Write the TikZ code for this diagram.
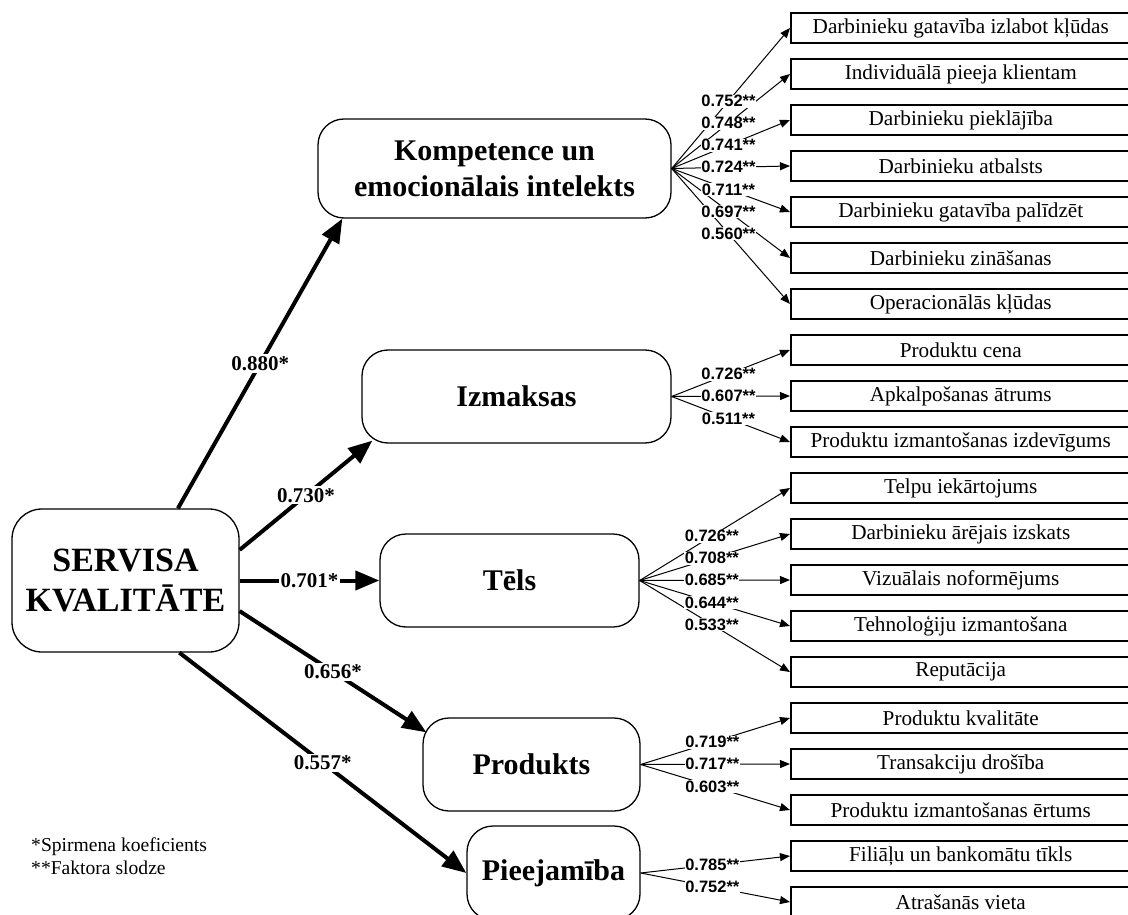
\documentclass[tikz,border=0pt]{standalone}
\usepackage{fontspec}
\setmainfont{Liberation Serif}
\newfontfamily\lblfont{Liberation Sans}
\usetikzlibrary{arrows.meta,calc}
\begin{document}
\begin{tikzpicture}[x=1pt,y=-1pt,
  factor/.style={draw, line width=1.3pt, rounded corners=26pt, align=center, inner sep=0pt, font=\bfseries\fontsize{30}{36}\selectfont},
  item/.style={draw, line width=1.5pt, minimum width=340pt, minimum height=30pt, anchor=west, inner sep=0pt, font=\fontsize{21.2}{24}\selectfont},
  mainarrow/.style={line width=4pt, -{Triangle[length=24pt,width=19pt]}},
  thinarrow/.style={line width=1pt, -{Triangle[length=10pt,width=8pt]}},
  mainlbl/.style={fill=white, inner sep=2pt, font=\bfseries\fontsize{21}{23}\selectfont},
  lbl/.style={fill=white, inner sep=0.6pt, pos=0.48, font=\lblfont\bfseries\fontsize{16.5}{17}\selectfont}
]
\useasboundingbox (0,0) rectangle (1128,915);

% factor nodes
\node[factor, minimum width=227pt, minimum height=143pt, rounded corners=30pt, font=\bfseries\fontsize{34}{40}\selectfont] (S) at (125.5,580.5) {SERVISA\\KVALITĀTE};
\node[factor, minimum width=353pt, minimum height=99pt] (K) at (494.5,168.5) {Kompetence un\\emocionālais intelekts};
\node[factor, minimum width=309pt, minimum height=93pt] (I) at (516.5,396.5) {Izmaksas};
\node[factor, minimum width=259pt, minimum height=93pt] (T) at (509.5,580.5) {Tēls};
\node[factor, minimum width=217pt, minimum height=93pt] (P) at (531.5,764.5) {Produkts};
\node[factor, minimum width=173pt, minimum height=94pt] (Pj) at (553.5,873) {Pieejamība};

% item boxes
\node[item] (r1) at (790,28) {Darbinieku gatavība izlabot kļūdas};
\node[item] (r2) at (790,74) {Individuālā pieeja klientam};
\node[item] (r3) at (790,120) {Darbinieku pieklājība};
\node[item] (r4) at (790,166) {Darbinieku atbalsts};
\node[item] (r5) at (790,212) {Darbinieku gatavība palīdzēt};
\node[item] (r6) at (790,258) {Darbinieku zināšanas};
\node[item] (r7) at (790,304) {Operacionālās kļūdas};
\node[item] (r8) at (790,350) {Produktu cena};
\node[item] (r9) at (790,396) {Apkalpošanas ātrums};
\node[item] (r10) at (790,442) {Produktu izmantošanas izdevīgums};
\node[item] (r11) at (790,488) {Telpu iekārtojums};
\node[item] (r12) at (790,534) {Darbinieku ārējais izskats};
\node[item] (r13) at (790,580) {Vizuālais noformējums};
\node[item] (r14) at (790,626) {Tehnoloģiju izmantošana};
\node[item] (r15) at (790,672) {Reputācija};
\node[item] (r16) at (790,718) {Produktu kvalitāte};
\node[item] (r17) at (790,764) {Transakciju drošība};
\node[item] (r18) at (790,810) {Produktu izmantošanas ērtums};
\node[item] (r19) at (790,856) {Filiāļu un bankomātu tīkls};
\node[item] (r20) at (790,902) {Atrašanās vieta};

% main arrows
\draw[mainarrow] (S.54) -- node[mainlbl]{0.880*} ($(K.south west)+(25,0)$);
\draw[mainarrow] (S.15.5) -- node[mainlbl]{0.730*} ($(I.south west)+(11,-3)$);
\draw[mainarrow] (S.east) -- node[mainlbl]{0.701*} (T.west);
\draw[mainarrow] (S.-15.5) -- node[mainlbl]{0.656*} ($(P.north west)+(4,15)$);
\draw[mainarrow] ($(S.south west)+(168,0)$) -- node[mainlbl]{0.557*} (Pj.west);

% fan arrows
\foreach \r in {1,...,7} \draw[thinarrow] (K.east) -- (r\r.west);
\foreach \r in {8,9,10} \draw[thinarrow] (I.east) -- (r\r.west);
\foreach \r in {11,...,15} \draw[thinarrow] (T.east) -- (r\r.west);
\foreach \r in {16,17,18} \draw[thinarrow] (P.east) -- (r\r.west);
\foreach \r in {19,20} \draw[thinarrow] (Pj.east) -- (r\r.west);

% fan labels
\path (K.east) -- node[lbl]{0.752**} (r1.west);
\path (K.east) -- node[lbl]{0.748**} (r2.west);
\path (K.east) -- node[lbl]{0.741**} (r3.west);
\path (K.east) -- node[lbl]{0.724**} (r4.west);
\path (K.east) -- node[lbl]{0.711**} (r5.west);
\path (K.east) -- node[lbl]{0.697**} (r6.west);
\path (K.east) -- node[lbl]{0.560**} (r7.west);
\path (I.east) -- node[lbl]{0.726**} (r8.west);
\path (I.east) -- node[lbl]{0.607**} (r9.west);
\path (I.east) -- node[lbl]{0.511**} (r10.west);
\path (T.east) -- node[lbl]{0.726**} (r11.west);
\path (T.east) -- node[lbl]{0.708**} (r12.west);
\path (T.east) -- node[lbl]{0.685**} (r13.west);
\path (T.east) -- node[lbl]{0.644**} (r14.west);
\path (T.east) -- node[lbl]{0.533**} (r15.west);
\path (P.east) -- node[lbl]{0.719**} (r16.west);
\path (P.east) -- node[lbl]{0.717**} (r17.west);
\path (P.east) -- node[lbl]{0.603**} (r18.west);
\path (Pj.east) -- node[lbl]{0.785**} (r19.west);
\path (Pj.east) -- node[lbl]{0.752**} (r20.west);

% legend
\node[anchor=west, align=left, inner sep=0pt, font=\fontsize{19.6}{23}\selectfont] (leg) at (31,856.5) {*Spirmena koeficients\\**Faktora slodze};
\end{tikzpicture}
\end{document}
